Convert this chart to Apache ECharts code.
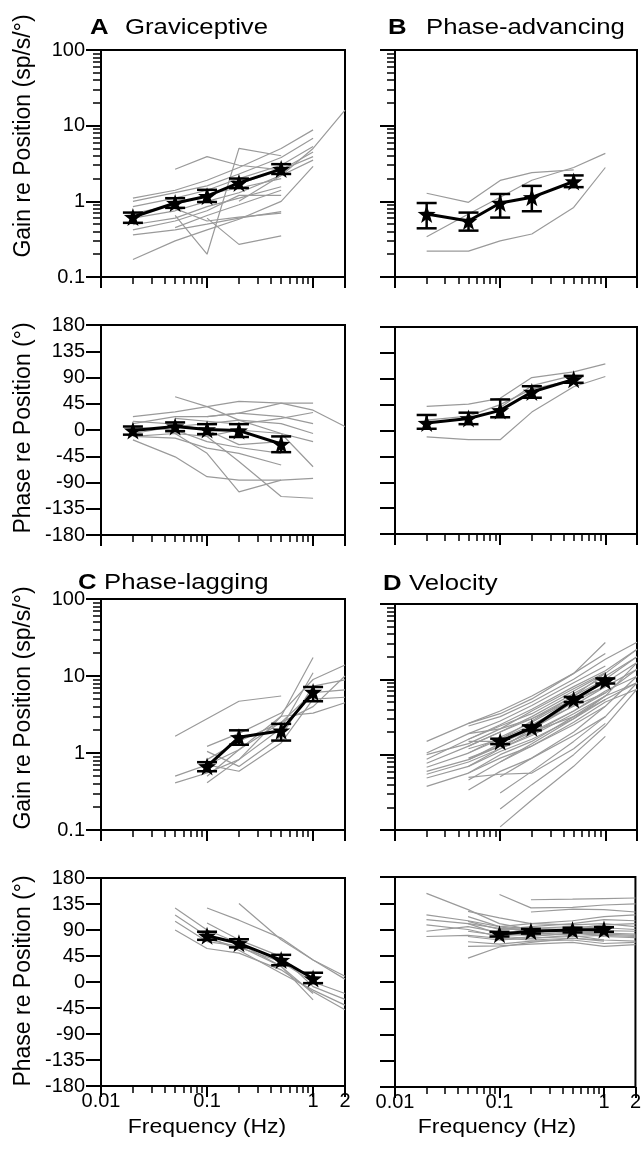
<!DOCTYPE html>
<html><head><meta charset="utf-8">
<script src="https://cdn.jsdelivr.net/npm/echarts@6/dist/echarts.min.js"></script>
<style>html,body{margin:0;padding:0;background:#fff}#c{width:644px;height:1149px}</style>
</head><body><div id="c"></div>
<script>
// ---------- data ----------
const freqs = [0.02, 0.05, 0.1, 0.2, 0.5, 1, 2];
const freqMajorTicks = [0.01, 0.1, 1, 2];
const freqMajorLabels = ['0.01', '0.1', '1', '2'];
const freqMinorTicks = [0.02, 0.03, 0.04, 0.05, 0.06, 0.07, 0.08, 0.09, 0.2, 0.3, 0.4, 0.5, 0.6, 0.7, 0.8, 0.9];
const gainMajorTicks = [0.1, 1, 10, 100];
const gainMajorLabels = ['0.1', '1', '10', '100'];
const gainMinorTicks = [0.2, 0.3, 0.4, 0.5, 0.6, 0.7, 0.8, 0.9, 2, 3, 4, 5, 6, 7, 8, 9, 20, 30, 40, 50, 60, 70, 80, 90];

// A Graviceptive
const gravGainCells = [
  [1.1, 1.4, 1.9, 2.8, 5.0, 8.8, null],
  [1.0, 1.3, 1.6, 2.3, 3.8, 6.8, null],
  [0.85, 1.1, 1.4, 2.0, 3.0, 5.3, null],
  [0.69, 0.9, 1.2, 1.7, 2.6, 4.5, null],
  [0.6, 0.75, 1.0, 1.3, 2.2, 3.5, null],
  [0.49, 0.6, 0.85, 1.1, 1.56, null, null],
  [0.42, 0.55, 0.75, 1.2, 1.2, null, null],
  [0.36, 0.42, 0.5, 0.6, 0.73, null, null],
  [0.17, 0.3, 0.42, 0.58, 1.0, 2.9, null],
  [null, 2.65, 3.9, 3.0, 2.6, 3.9, null],
  [null, 0.65, 0.2, 5.0, 4.0, null, null],
  [null, null, 0.6, 0.27, 0.35, null, null],
  [null, 0.8, 0.55, 0.62, 0.7, null, null],
  [null, null, null, 1.0, 2.2, 5.0, 16],
  [null, 0.45, 0.65, 0.9, 1.4, null, null],
  [null, null, 1.25, 1.5, 2.0, null, null]
];
const gravGainMean = [0.62, 0.95, 1.17, 1.75, 2.67, null, null];
const gravGainLow  = [0.52, 0.82, 0.98, 1.5, 2.3, null, null];
const gravGainHigh = [0.71, 1.1, 1.42, 2.0, 3.1, null, null];
const gravPhaseCells = [
  [23, 31, 40, 49, 46, 46, null],
  [11, 23, 23, 29, 23, 11, null],
  [-6, 6, 11, 17, 11, -6, null],
  [-11, -6, -11, 0, -6, -20, null],
  [-17, -46, -80, -86, -86, -83, null],
  [null, 57, 40, 17, -6, -63, null],
  [-11, -14, -31, -40, -60, null, null],
  [null, -6, -40, -106, -86, null, null],
  [null, null, -11, -54, -114, -117, null],
  [null, null, 23, 29, 46, 34, 6],
  [5, 0, -20, -30, -40, null, null],
  [null, 20, 15, 10, 20, 30, null],
  [15, 10, 0, -25, -20, null, null]
];
const gravPhaseMean = [-1, 6, 1, -1, -24, null, null];
const gravPhaseLow  = [-8, -2, -7, -12, -38, null, null];
const gravPhaseHigh = [6, 13, 10, 10, -11, null, null];

// B Phase-advancing
const advGainCells = [
  [1.28, 0.97, 1.89, 2.4, 2.6, null, null],
  [0.34, 0.68, 1.13, 1.9, 2.8, 4.3, null],
  [0.22, 0.22, 0.3, 0.37, 0.83, 2.8, null]
];
const advGainMean = [0.68, 0.55, 0.95, 1.13, 1.83, null, null];
const advGainLow  = [0.44, 0.41, 0.61, 0.74, 1.54, null, null];
const advGainHigh = [0.95, 0.71, 1.25, 1.6, 2.2, null, null];
const advPhaseCells = [
  [42, 46, 56, 92, 102, 116, null],
  [-11, -16, -16, 32, 76, 94, null],
  [18, 25, 45, 72, 88, null, null],
  [null, null, 40, 78, 96, null, null]
];
const advPhaseMean = [13, 21, 35, 67, 89, null, null];
const advPhaseLow  = [3, 11, 23, 57, 83, null, null];
const advPhaseHigh = [27, 31, 54, 77, 95, null, null];

// C Phase-lagging
const lagGainCells = [
  [null, 1.65, null, 4.7, 5.5, null, null],
  [null, 0.5, 0.7, 1.1, 3.0, 17.4, null],
  [null, 0.41, 0.55, 0.82, 2.1, 11, null],
  [null, null, 1.22, 1.8, 3.3, 9, 13.9],
  [null, null, 1.05, 0.67, 1.65, 7.4, 8.9],
  [null, null, 0.82, 1.42, 2.5, 6.1, 6.6],
  [null, null, 0.7, 0.58, 1.35, 5.0, 5.3],
  [null, null, 0.5, 1.1, 2.5, 4.0, 10],
  [null, null, 0.41, 0.82, 3.0, 3.3, 4.5]
];
const lagGainMean = [null, null, 0.67, 1.6, 1.95, 6.2, null];
const lagGainLow  = [null, null, 0.58, 1.28, 1.45, 4.7, null];
const lagGainHigh = [null, null, 0.76, 1.97, 2.39, 7.2, null];
const lagPhaseCells = [
  [null, 128, 90, 67, 27, -31, null],
  [null, 116, 79, 55, 15, -14, -40],
  [null, 90, 58, 50, 21, -17, -48],
  [null, null, 128, 107, 76, 38, 10],
  [null, null, null, 136, 73, 38, 5],
  [null, null, 102, 73, 44, -8, -30],
  [null, 105, 70, 62, 27, -20, null],
  [null, null, 75, 60, 35, 0, -20]
];
const lagPhaseMean = [null, null, 80, 67, 38, 6, null];
const lagPhaseLow  = [null, null, 73, 60, 29, -2, null];
const lagPhaseHigh = [null, null, 87, 74, 47, 16, null];

// D Velocity
const velGainCells = [
  [1.5, 2.6, 3.8, 6, 12, 22, null],
  [1.05, 1.9, 2.8, 4.5, 9, 15, null],
  [0.87, 1.6, 2.4, 3.5, 7, 12, null],
  [0.77, 1.3, 2.0, 3.0, 6.0, 10, null],
  [0.68, 1.05, 1.6, 2.5, 5, 8.1, null],
  [0.6, 0.86, 1.3, 2.0, 3.8, 6.6, null],
  [0.49, 0.7, 1.1, 1.6, 3.0, 5.4, null],
  [0.38, 0.57, 0.9, 1.3, 2.5, 4.4, null],
  [null, 2.4, 3.2, 5, 10, 18.5, 31],
  [null, 1.6, 2.5, 4, 8, 13, 25],
  [null, 1.3, 2.0, 3.2, 6.5, 11, 20],
  [null, 1.05, 1.7, 2.7, 5.5, 9, 16.7],
  [null, 0.86, 1.4, 2.2, 4.5, 8, 13.6],
  [null, 0.7, 1.2, 1.9, 3.8, 7, 11],
  [null, 0.57, 1.0, 1.5, 3.2, 6, 9],
  [null, 0.46, 0.8, 1.3, 2.7, 5, 7.4],
  [null, 0.34, 0.6, 0.9, 1.8, 3.2, null],
  [null, null, 0.51, 0.9, 2.0, 4.4, 11],
  [null, null, 0.31, 0.6, 1.5, 3.2, 9],
  [null, null, 0.19, 0.4, 1.0, 2.4, 7.4],
  [null, null, 0.11, 0.25, 0.7, 1.75, null],
  [null, 1.9, 2.2, 3, 5.4, 8, null],
  [null, 2.6, 3.5, 5.5, 12, 30.8, null],
  [1.0, 1.4, 2.2, 3.8, 7.5, 12.3, null],
  [null, 1.5, 1.5, 2.4, 4.4, 6.6, 13.6],
  [null, 0.9, 1.3, 2.0, 3.2, 5.4, 9],
  [null, null, 1.2, 2.2, 5, 10, 20],
  [0.55, 0.8, 1.2, 1.8, 3.5, 6.0, null],
  [null, 1.2, 1.6, 2.8, 6, 12, 25],
  [null, null, 0.8, 1.4, 3, 6, 16.7],
  [null, 0.5, 0.55, 0.57, 1.2, 2.6, null]
];
const velGainMean = [null, null, 1.5, 2.27, 5.4, 9.5, null];
const velGainLow  = [null, null, 1.38, 2.1, 5.0, 8.8, null];
const velGainHigh = [null, null, 1.63, 2.45, 5.85, 10.3, null];
const velPhaseCells = [
  [152, 124, 100, 90, 88, 90, null],
  [115, 105, 95, 85, 90, 95, null],
  [107, 100, 82, 80, 82, 85, null],
  [98, 90, 78, 75, 78, 80, null],
  [87, 95, 85, 88, 90, 85, null],
  [78, 80, 75, 72, 75, 70, null],
  [null, 121, 110, 100, 98, 100, 95],
  [null, 112, 95, 92, 95, 93, 90],
  [null, 104, 90, 95, 100, 107, 105],
  [null, 87, 80, 82, 85, 78, 76],
  [null, 78, 72, 75, 80, 72, 70],
  [null, 69, 65, 70, 72, 66, 68],
  [null, 61, 62, 65, 68, 61, 64],
  [null, 41, 60, 68, 75, 72, null],
  [null, null, 150, 127, 128, 132, 134],
  [null, null, null, 141, 142, 143, 144],
  [null, null, null, 120, 125, 124, 120],
  [null, null, 95, 100, 105, 112, 115],
  [null, null, 80, 84, 92, 98, 100],
  [null, null, 72, 78, 84, 80, 78],
  [null, null, 85, 88, 85, 82, 80],
  [null, null, 90, 92, 90, 88, 87],
  [null, 100, 92, 88, 86, 84, 82]
];
const velPhaseMean = [null, null, 82, 87, 89, 90, null];
const velPhaseLow  = [null, null, 78, 83, 85, 86, null];
const velPhaseHigh = [null, null, 86, 91, 93, 94, null];

// ---------- layout & style ----------
const FONT = '"Liberation Sans", Arial, Helvetica, sans-serif';
const GRAY = '#9a9a9a';
const STAR = 'path://M0,-10 L2.35,-3.24 L9.51,-3.09 L3.8,1.24 L5.88,8.09 L0,4 L-5.88,8.09 L-3.8,1.24 L-9.51,-3.09 L-2.35,-3.24 Z';
const layout = {
  Ag: [101, 50, 244, 227], Bg: [395, 50, 242, 227],
  Ap: [101, 325, 244, 210], Bp: [395, 327, 242, 207],
  Cg: [101, 599, 244, 231], Dg: [395, 604, 242, 226],
  Cp: [101, 878, 244, 208], Dp: [395, 877, 242, 210]
};
const panels = [
  {key: 'Ag', kind: 'gain', leftCol: true, bottomRow: false, cells: gravGainCells, mean: gravGainMean, lo: gravGainLow, hi: gravGainHigh},
  {key: 'Bg', kind: 'gain', leftCol: false, bottomRow: false, cells: advGainCells, mean: advGainMean, lo: advGainLow, hi: advGainHigh},
  {key: 'Ap', kind: 'phase', leftCol: true, bottomRow: false, cells: gravPhaseCells, mean: gravPhaseMean, lo: gravPhaseLow, hi: gravPhaseHigh},
  {key: 'Bp', kind: 'phase', leftCol: false, bottomRow: false, cells: advPhaseCells, mean: advPhaseMean, lo: advPhaseLow, hi: advPhaseHigh},
  {key: 'Cg', kind: 'gain', leftCol: true, bottomRow: false, cells: lagGainCells, mean: lagGainMean, lo: lagGainLow, hi: lagGainHigh},
  {key: 'Dg', kind: 'gain', leftCol: false, bottomRow: false, cells: velGainCells, mean: velGainMean, lo: velGainLow, hi: velGainHigh},
  {key: 'Cp', kind: 'phase', leftCol: true, bottomRow: true, cells: lagPhaseCells, mean: lagPhaseMean, lo: lagPhaseLow, hi: lagPhaseHigh},
  {key: 'Dp', kind: 'phase', leftCol: false, bottomRow: true, cells: velPhaseCells, mean: velPhaseMean, lo: velPhaseLow, hi: velPhaseHigh}
];
const LABEL_SIZE = 20;

function tickAxis(gi, dim, ticks, labels, len, width, showLabels, mn, mx) {
  const vals = ticks.map(v => Math.log10(v));
  return {
    gridIndex: gi, type: 'value', min: mn, max: mx, position: dim === 'x' ? 'bottom' : 'left',
    axisLine: {show: false, onZero: false},
    axisTick: {show: true, inside: false, length: len, customValues: vals, lineStyle: {color: '#000', width: width}},
    axisLabel: {show: showLabels, customValues: vals, margin: dim === 'x' ? 5 : 16, fontSize: LABEL_SIZE, color: '#000', fontFamily: FONT,
      formatter: v => { const k = vals.findIndex(u => Math.abs(u - v) < 1e-9); return (k >= 0 && labels) ? labels[k] : ''; }},
    splitLine: {show: false}, splitArea: {show: false}
  };
}
function pts(arr) {
  return freqs.map((f, k) => arr[k] == null ? null : [f, arr[k]]).filter(Boolean);
}
function errRenderer(params, api) {
  const x = api.value(0), lo = api.value(1), hi = api.value(2);
  const a = api.coord([x, lo]), b = api.coord([x, hi]);
  const w = 10, st = {stroke: '#000', lineWidth: 2.5};
  return {type: 'group', children: [
    {type: 'line', shape: {x1: a[0], y1: a[1], x2: b[0], y2: b[1]}, style: st},
    {type: 'line', shape: {x1: a[0] - w, y1: a[1], x2: a[0] + w, y2: a[1]}, style: st},
    {type: 'line', shape: {x1: b[0] - w, y1: b[1], x2: b[0] + w, y2: b[1]}, style: st}
  ]};
}

const grids = [], xAxes = [], yAxes = [], series = [];
panels.forEach((p, i) => {
  const [l, t, w, h] = layout[p.key];
  grids.push({left: l, top: t, width: w, height: h, show: true, borderColor: '#000', borderWidth: 2, backgroundColor: 'rgba(0,0,0,0)'});
  const xd = xAxes.length;
  xAxes.push({gridIndex: i, type: 'log', logBase: 10, min: 0.01, max: 2, show: false, position: 'bottom', axisLine: {onZero: false}});
  xAxes.push(tickAxis(i, 'x', freqMajorTicks, freqMajorLabels, 11, 2, p.bottomRow, -2, Math.log10(2)));
  xAxes.push(tickAxis(i, 'x', freqMinorTicks, null, 7, 1.5, false, -2, Math.log10(2)));
  const yd = yAxes.length;
  if (p.kind === 'gain') {
    yAxes.push({gridIndex: i, type: 'log', logBase: 10, min: 0.1, max: 100, show: false, position: 'left', axisLine: {onZero: false}});
    yAxes.push(tickAxis(i, 'y', gainMajorTicks, gainMajorLabels, 15, 2, p.leftCol, -1, 2));
    yAxes.push(tickAxis(i, 'y', gainMinorTicks, null, 8, 1.5, false, -1, 2));
  } else {
    yAxes.push({gridIndex: i, type: 'value', min: -180, max: 180, interval: 45, position: 'left',
      axisLine: {show: false, onZero: false},
      axisTick: {show: true, inside: false, length: 15, lineStyle: {color: '#000', width: 2}},
      axisLabel: {show: p.leftCol, margin: 16, fontSize: LABEL_SIZE, color: '#000', fontFamily: FONT, showMinLabel: true, showMaxLabel: true},
      splitLine: {show: false}});
  }
  p.cells.forEach(c => series.push({type: 'line', xAxisIndex: xd, yAxisIndex: yd, data: pts(c),
    symbol: 'none', showSymbol: false, silent: true, z: 2, lineStyle: {color: GRAY, width: 1.2}}));
  series.push({type: 'custom', xAxisIndex: xd, yAxisIndex: yd, z: 3, silent: true,
    encode: {x: 0, y: [1, 2]},
    data: freqs.map((f, k) => p.mean[k] == null ? null : [f, p.lo[k], p.hi[k]]).filter(Boolean),
    renderItem: errRenderer});
  series.push({type: 'line', xAxisIndex: xd, yAxisIndex: yd, data: pts(p.mean), z: 4, silent: true,
    symbol: STAR, symbolSize: 18, itemStyle: {color: '#000'}, lineStyle: {color: '#000', width: 3}});
});

function txt(x, y, s, size, bold, opts) {
  return Object.assign({type: 'text', x: x, y: y, silent: true,
    style: {text: s, fontSize: size, fontWeight: bold ? 'bold' : 'normal', fontFamily: FONT, fill: '#000',
      align: 'left', verticalAlign: 'middle', textAlign: 'left', textVerticalAlign: 'middle'}}, opts || {});
}
function ctxt(x, y, s, size, opts) {
  const e = txt(x, y, s, size, false, opts);
  e.style.align = 'center'; e.style.textAlign = 'center';
  return e;
}
const graphics = [
  txt(90, 28, 'A', 22, true, {scaleX: 1.17}),
  txt(125, 28, 'Graviceptive', 22, false, {scaleX: 1.17}),
  txt(388, 28, 'B', 22, true, {scaleX: 1.17}),
  txt(426, 28, 'Phase-advancing', 22, false, {scaleX: 1.17}),
  txt(78, 583, 'C', 22, true, {scaleX: 1.17}),
  txt(104, 583, 'Phase-lagging', 22, false, {scaleX: 1.17}),
  txt(383, 584, 'D', 22, true, {scaleX: 1.17}),
  txt(409, 584, 'Velocity', 22, false, {scaleX: 1.17}),
  ctxt(24, 136, 'Gain re Position (sp/s/°)', 23, {rotation: Math.PI / 2}),
  ctxt(24, 428, 'Phase re Position (°)', 23, {rotation: Math.PI / 2}),
  ctxt(24, 708, 'Gain re Position (sp/s/°)', 23, {rotation: Math.PI / 2}),
  ctxt(24, 981, 'Phase re Position (°)', 23, {rotation: Math.PI / 2}),
  ctxt(207, 1127, 'Frequency (Hz)', 20, {scaleX: 1.15}),
  ctxt(497, 1127, 'Frequency (Hz)', 20, {scaleX: 1.15})
];

const chart = echarts.init(document.getElementById('c'), null, {renderer: 'canvas', width: 644, height: 1149});
chart.setOption({
  animation: false, backgroundColor: '#fff',
  grid: grids, xAxis: xAxes, yAxis: yAxes, series: series, graphic: graphics
});
</script></body></html>
